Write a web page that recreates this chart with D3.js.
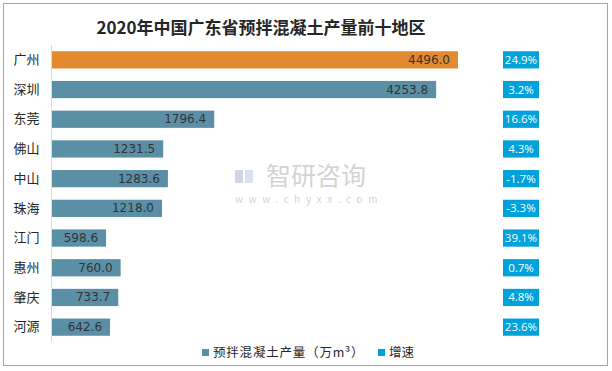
<!DOCTYPE html>
<html>
<head>
<meta charset="utf-8">
<script src="https://d3js.org/d3.v7.min.js"></script>
<style>
  body { margin: 0; background: #fff; font-family: "Noto Sans CJK SC", "Noto Sans", sans-serif; }
</style>
</head>
<body>
<div id="chart"></div>
<script>
  const regions = ['广州', '深圳', '东莞', '佛山', '中山', '珠海', '江门', '惠州', '肇庆', '河源'];
  const output = [4496.0, 4253.8, 1796.4, 1231.5, 1283.6, 1218.0, 598.6, 760.0, 733.7, 642.6];
  const growth = ['24.9%', '3.2%', '16.6%', '4.3%', '-1.7%', '-3.3%', '39.1%', '0.7%', '4.8%', '23.6%'];

  const width = 612, height = 371;
  const svg = d3.select('#chart').append('svg')
      .attr('width', width)
      .attr('height', height);

  // outer frame
  svg.append('rect')
      .attr('x', 3.5).attr('y', 3.5)
      .attr('width', 604).attr('height', 362)
      .attr('fill', '#fff')
      .attr('stroke', '#a6a6a6');

  svg.append('text')
      .attr('x', 261).attr('y', 34)
      .attr('text-anchor', 'middle')
      .style('font-size', '17px')
      .style('font-weight', 'bold')
      .style('fill', '#262626')
      .text('2020年中国广东省预拌混凝土产量前十地区');

  // watermark
  const wm = svg.append('g').style('opacity', 0.55);
  wm.append('rect').attr('x', 235).attr('y', 170).attr('width', 8).attr('height', 13).attr('fill', '#a8b4cc');
  wm.append('rect').attr('x', 245).attr('y', 170).attr('width', 8).attr('height', 13).attr('fill', '#b9c9e6');
  wm.append('text')
      .attr('x', 266).attr('y', 185)
      .style('font-size', '25px')
      .style('fill', '#b0b0b0')
      .text('智研咨询');
  wm.append('text')
      .attr('x', 235).attr('y', 203)
      .style('font-size', '10px')
      .style('letter-spacing', '5.6px')
      .style('fill', '#b0b0b0')
      .text('www.chyxx.com');

  const x = d3.scaleLinear()
      .domain([0, 4496.0])
      .range([52, 458]);

  const y = d3.scaleBand()
      .domain(regions)
      .range([45, 342])
      .paddingInner(0.42)
      .paddingOuter(0.21);

  // category axis
  const yAxis = svg.append('g')
      .attr('transform', 'translate(51.5,0)')
      .call(d3.axisLeft(y).tickSize(0).tickPadding(12));
  yAxis.select('.domain').attr('stroke', '#d9d9d9').attr('d', 'M0,45V342');
  yAxis.selectAll('text')
      .style('font-size', '13px')
      .style('fill', '#262626')
      .style('font-family', '"Noto Sans CJK SC", sans-serif');

  svg.selectAll('.bar')
      .data(regions)
      .enter().append('rect')
      .attr('class', 'bar')
      .attr('x', x(0))
      .attr('y', d => y(d))
      .attr('width', (d, i) => x(output[i]) - x(0))
      .attr('height', y.bandwidth())
      .attr('fill', (d, i) => i === 0 ? '#e38a2f' : '#5b8fa6');

  svg.selectAll('.val')
      .data(regions)
      .enter().append('text')
      .attr('x', (d, i) => x(output[i]) - 8)
      .attr('y', d => y(d) + y.bandwidth() / 2 + 4)
      .attr('text-anchor', 'end')
      .style('font-size', '12px')
      .style('font-family', '"DejaVu Sans", sans-serif')
      .style('fill', '#333')
      .text((d, i) => output[i].toFixed(1));

  // growth boxes
  svg.selectAll('.gbox')
      .data(regions)
      .enter().append('rect')
      .attr('x', 503)
      .attr('y', d => y(d))
      .attr('width', 36)
      .attr('height', y.bandwidth())
      .attr('fill', '#00a2dc');

  svg.selectAll('.gtxt')
      .data(regions)
      .enter().append('text')
      .attr('x', 521)
      .attr('y', d => y(d) + y.bandwidth() / 2 + 4)
      .attr('text-anchor', 'middle')
      .style('font-size', '11.5px')
      .style('font-family', '"Open Sans", sans-serif')
      .style('fill', '#fff')
      .text((d, i) => growth[i]);

  // legend
  const legend = svg.append('g');
  legend.append('rect').attr('x', 202).attr('y', 349).attr('width', 7).attr('height', 7).attr('fill', '#5b8fa6');
  legend.append('text')
      .attr('x', 213).attr('y', 357)
      .style('font-size', '12.5px')
      .style('letter-spacing', '0.8px')
      .style('fill', '#262626')
      .text('预拌混凝土产量（万m³）');
  legend.append('rect').attr('x', 378).attr('y', 349).attr('width', 7).attr('height', 7).attr('fill', '#00a2dc');
  legend.append('text')
      .attr('x', 389).attr('y', 357)
      .style('font-size', '12.5px')
      .style('fill', '#262626')
      .text('增速');
</script>
</body>
</html>
